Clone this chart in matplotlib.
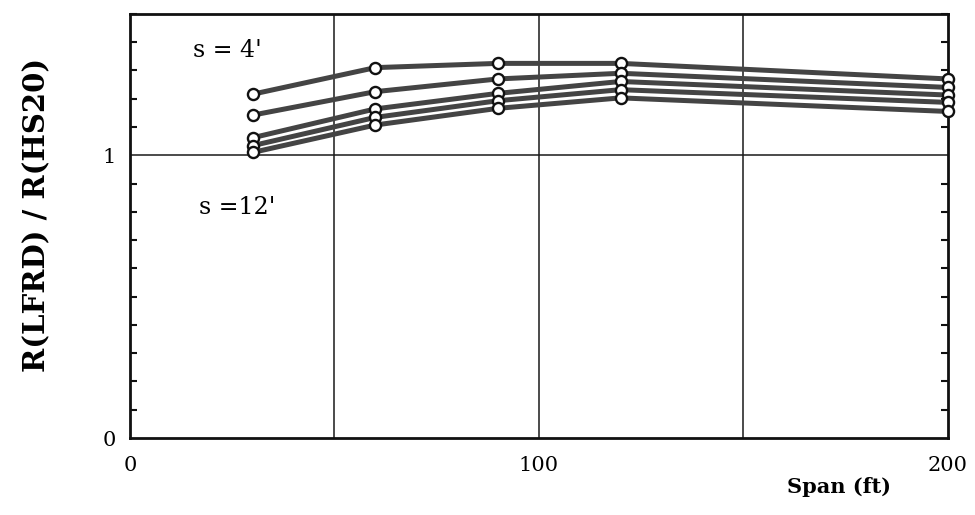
import matplotlib
matplotlib.use("Agg")
import matplotlib.pyplot as plt
from matplotlib.ticker import MultipleLocator

# Span (ft) at which the ratio was evaluated
span = [30, 60, 90, 120, 200]

# R(LFRD) / R(HS20) for each girder spacing s
ratio_s4 = [1.216, 1.310, 1.325, 1.325, 1.270]
ratio_s6 = [1.142, 1.225, 1.270, 1.290, 1.240]
ratio_s8 = [1.062, 1.164, 1.219, 1.261, 1.213]
ratio_s10 = [1.034, 1.134, 1.193, 1.232, 1.187]
ratio_s12 = [1.010, 1.107, 1.166, 1.203, 1.155]
series = [ratio_s4, ratio_s6, ratio_s8, ratio_s10, ratio_s12]

x_ticks = [0, 100, 200]
x_tick_labels = ["0", "100", "200"]
y_ticks = [0, 1]
y_tick_labels = ["0", "1"]

serif = "DejaVu Serif"

fig = plt.figure(figsize=(9.75, 5.15), dpi=100)
ax = fig.add_axes([0.1333, 0.1495, 0.8387, 0.8235])

ax.set_xlim(0, 200)
ax.set_ylim(0, 1.5)

# grid at x = 50, 100, 150 and y = 1
for gx in (50, 100, 150):
    ax.axvline(gx, color="#1a1a1a", lw=1.1, zorder=1)
ax.axhline(1.0, color="#1a1a1a", lw=1.1, zorder=1)

for vals in series:
    ax.plot(span, vals, color="#444444", lw=3.6, marker="o", markersize=8,
            markerfacecolor="white", markeredgecolor="#111111",
            markeredgewidth=1.7, zorder=3, clip_on=False)

ax.text(15.5, 1.37, "s = 4'", family=serif, fontsize=17, va="center", ha="left")
ax.text(17.0, 0.815, "s =12'", family=serif, fontsize=17, va="center", ha="left")

ax.set_xticks(x_ticks)
ax.set_xticklabels(x_tick_labels, family=serif, fontsize=15)
ax.set_yticks(y_ticks)
ax.set_yticklabels(y_tick_labels, family=serif, fontsize=15)
ax.yaxis.set_minor_locator(MultipleLocator(0.1))
ax.tick_params(axis="x", which="both", length=0, pad=13)
ax.tick_params(axis="y", which="major", length=0, pad=10)
ax.tick_params(axis="y", which="minor", direction="in", length=5, width=1.5,
               left=True, right=True, color="#111111")

for sp in ax.spines.values():
    sp.set_linewidth(2.0)
    sp.set_color("#111111")

ax.set_ylabel("R(LFRD) / R(HS20)", family=serif, fontsize=21, fontweight="bold")
ax.yaxis.set_label_coords(-0.096, 0.525)
fig.text(0.861, 0.055, "Span (ft)", family=serif, fontsize=15, fontweight="bold",
         ha="center", va="center")

fig.savefig("out.png", dpi=100)
